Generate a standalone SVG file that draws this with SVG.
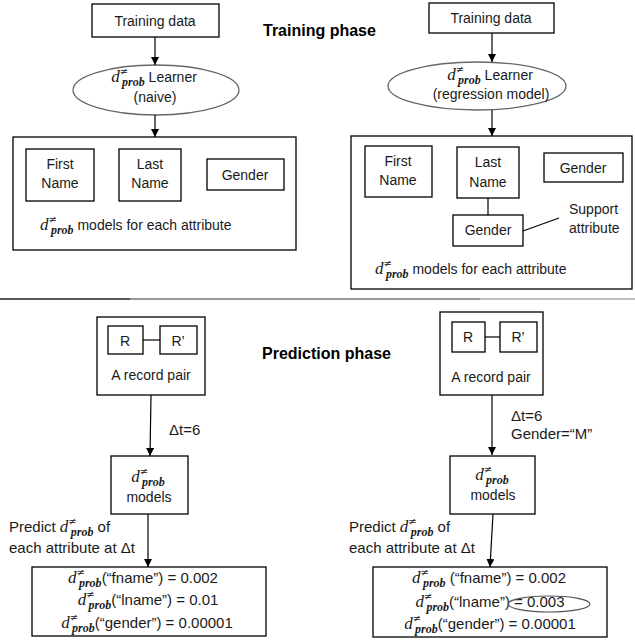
<svg xmlns="http://www.w3.org/2000/svg" width="635" height="640" viewBox="0 0 635 640">
<defs>
<marker id="ah" viewBox="0 0 10 10" refX="10" refY="5" markerWidth="8" markerHeight="8" markerUnits="userSpaceOnUse" orient="auto">
<path d="M0,0 L10,5 L0,10 z" fill="#000"/>
</marker>
</defs>
<style>
text{font-family:"Liberation Sans",Arial,sans-serif;font-size:14px;fill:#1a1a1a}
.c{text-anchor:middle}
.t15{font-size:15px}
.b{font-weight:bold;font-size:16px;fill:#000}
.box{fill:#fff;stroke:#000;stroke-width:1.3}
.ell{fill:#fff;stroke:#666;stroke-width:1.3}
.ln{stroke:#000;stroke-width:1.2;fill:none}
.arr{stroke:#000;stroke-width:1.2;fill:none;marker-end:url(#ah)}
.d{font-family:"Liberation Serif","Times New Roman",serif;font-style:italic;font-size:17px}
.sp{font-family:"DejaVu Sans",sans-serif;font-size:10px}
.sb{font-family:"Liberation Serif","Times New Roman",serif;font-style:italic;font-weight:bold;font-size:12px}
</style>
<rect width="635" height="640" fill="#fff"/>

<text class="b" x="263" y="36">Training phase</text>
<text class="b" x="262" y="359">Prediction phase</text>

<g id="divider">
<line x1="0" y1="299" x2="130" y2="299" stroke="#222" stroke-width="1.5"/>
<line x1="130" y1="299" x2="480" y2="299" stroke="#777" stroke-width="1.5"/>
<line x1="480" y1="299" x2="635" y2="299" stroke="#aaa" stroke-width="1.5"/>
</g>

<!-- Training left -->
<g id="train-data-left">
<rect class="box" x="92" y="4" width="127" height="33"/>
<text class="c" x="155" y="26">Training data</text>
</g>
<g id="learner-left">
<ellipse class="ell" cx="156" cy="90" rx="83" ry="25"/>
<text class="c" x="154" y="82"><tspan class="d">d</tspan><tspan class="sp" dy="-7">≠</tspan><tspan class="sb" dx="-6" dy="11">prob</tspan><tspan dy="-4"> Learner</tspan></text>
<text class="c" x="155" y="102">(naive)</text>
</g>
<g id="models-left">
<rect class="box" x="13" y="137" width="283" height="113"/>
<text x="40" y="230"><tspan class="d">d</tspan><tspan class="sp" dy="-7">≠</tspan><tspan class="sb" dx="-6" dy="11">prob</tspan><tspan dy="-4"> models for each attribute</tspan></text>
</g>
<g id="fname-left">
<rect class="box" x="26" y="149" width="68" height="52"/>
<text class="c" x="60" y="169">First</text>
<text class="c" x="60" y="188">Name</text>
</g>
<g id="lname-left">
<rect class="box" x="119" y="149" width="62" height="52"/>
<text class="c" x="150" y="169">Last</text>
<text class="c" x="150" y="188">Name</text>
</g>
<g id="gender-left">
<rect class="box" x="207" y="159" width="77" height="31"/>
<text class="c" x="245" y="180">Gender</text>
</g>

<!-- Training right -->
<g id="train-data-right">
<rect class="box" x="429" y="3" width="125" height="30"/>
<text class="c" x="491" y="23">Training data</text>
</g>
<g id="learner-right">
<ellipse class="ell" cx="477" cy="86" rx="89" ry="24"/>
<text class="c" x="490" y="80"><tspan class="d">d</tspan><tspan class="sp" dy="-7">≠</tspan><tspan class="sb" dx="-6" dy="11">prob</tspan><tspan dy="-4"> Learner</tspan></text>
<text class="c" x="491" y="99">(regression model)</text>
</g>
<g id="models-right">
<rect class="box" x="351" y="136" width="281" height="153"/>
<text x="375" y="274"><tspan class="d">d</tspan><tspan class="sp" dy="-7">≠</tspan><tspan class="sb" dx="-6" dy="11">prob</tspan><tspan dy="-4"> models for each attribute</tspan></text>
</g>
<g id="fname-right">
<rect class="box" x="365" y="146" width="67" height="51"/>
<text class="c" x="398" y="166">First</text>
<text class="c" x="398" y="185">Name</text>
</g>
<g id="lname-right">
<rect class="box" x="457" y="147" width="62" height="51"/>
<text class="c" x="488" y="167">Last</text>
<text class="c" x="488" y="187">Name</text>
</g>
<g id="gender-right">
<rect class="box" x="544" y="153" width="79" height="29"/>
<text class="c" x="583" y="173">Gender</text>
</g>
<g id="gender-support">
<rect class="box" x="453" y="215" width="70" height="31"/>
<text class="c" x="488" y="235">Gender</text>
</g>
<g id="support-label">
<text x="569" y="214">Support</text>
<text x="569" y="233">attribute</text>
</g>

<!-- Prediction left -->
<g id="pair-left">
<rect class="box" x="97" y="317" width="108" height="78"/>
<rect class="box" x="108" y="326" width="35" height="28"/>
<text class="c" x="125" y="346">R</text>
<rect class="box" x="160" y="326" width="37" height="28"/>
<text class="c" x="178" y="346">R’</text>
<text class="c" x="151" y="380">A record pair</text>
</g>
<text class="t15" x="169" y="435">Δt=6</text>
<g id="models-pred-left">
<rect class="box" x="111" y="456" width="77" height="58"/>
<text class="c" x="148" y="482"><tspan class="d">d</tspan><tspan class="sp" dy="-7">≠</tspan><tspan class="sb" dx="-6" dy="11">prob</tspan></text>
<text class="c" x="149" y="502">models</text>
</g>
<text class="t15" x="9" y="532">Predict <tspan class="d">d</tspan><tspan class="sp" dy="-7">≠</tspan><tspan class="sb" dx="-6" dy="11">prob</tspan><tspan dy="-4"> of</tspan></text>
<text class="t15" x="9" y="553">each attribute at Δt</text>
<g id="result-left">
<rect class="box" x="32" y="567" width="234" height="69"/>
<text class="c t15" x="143" y="583"><tspan class="d">d</tspan><tspan class="sp" dy="-7">≠</tspan><tspan class="sb" dx="-6" dy="11">prob</tspan><tspan dy="-4">(“fname”) = 0.002</tspan></text>
<text class="c t15" x="148" y="605"><tspan class="d">d</tspan><tspan class="sp" dy="-7">≠</tspan><tspan class="sb" dx="-6" dy="11">prob</tspan><tspan dy="-4">(“lname”) = 0.01</tspan></text>
<text class="c t15" x="147" y="628"><tspan class="d">d</tspan><tspan class="sp" dy="-7">≠</tspan><tspan class="sb" dx="-6" dy="11">prob</tspan><tspan dy="-4">(“gender”) = 0.00001</tspan></text>
</g>

<!-- Prediction right -->
<g id="pair-right">
<rect class="box" x="440" y="312" width="103" height="83"/>
<rect class="box" x="452" y="322" width="33" height="30"/>
<text class="c" x="468" y="342">R</text>
<rect class="box" x="500" y="322" width="37" height="30"/>
<text class="c" x="518" y="342">R’</text>
<text class="c" x="491" y="382">A record pair</text>
</g>
<text class="t15" x="511" y="421">Δt=6</text>
<text class="t15" x="511" y="439">Gender=“M”</text>
<g id="models-pred-right">
<rect class="box" x="450" y="456" width="85" height="58"/>
<text class="c" x="492" y="480"><tspan class="d">d</tspan><tspan class="sp" dy="-7">≠</tspan><tspan class="sb" dx="-6" dy="11">prob</tspan></text>
<text class="c" x="493" y="500">models</text>
</g>
<text class="t15" x="349" y="532">Predict <tspan class="d">d</tspan><tspan class="sp" dy="-7">≠</tspan><tspan class="sb" dx="-6" dy="11">prob</tspan><tspan dy="-4"> of</tspan></text>
<text class="t15" x="349" y="553">each attribute at Δt</text>
<g id="result-right">
<rect class="box" x="373" y="567" width="234" height="70"/>
<text class="c t15" x="489" y="583"><tspan class="d">d</tspan><tspan class="sp" dy="-7">≠</tspan><tspan class="sb" dx="-6" dy="11">prob</tspan><tspan dy="-4"> (“fname”) = 0.002</tspan></text>
<text class="c t15" x="490" y="607"><tspan class="d">d</tspan><tspan class="sp" dy="-7">≠</tspan><tspan class="sb" dx="-6" dy="11">prob</tspan><tspan dy="-4">(“lname”) = 0.003</tspan></text>
<text class="c t15" x="490" y="629"><tspan class="d">d</tspan><tspan class="sp" dy="-7">≠</tspan><tspan class="sb" dx="-6" dy="11">prob</tspan><tspan dy="-4">(“gender”) = 0.00001</tspan></text>
<ellipse cx="549" cy="604" rx="41" ry="8" fill="none" stroke="#555" stroke-width="1.2"/>
</g>

<g id="connectors">
<line class="arr" x1="155" y1="37" x2="155" y2="65"/>
<line class="arr" x1="155" y1="115" x2="155" y2="137"/>
<line class="arr" x1="492" y1="33" x2="492" y2="62"/>
<line class="arr" x1="492" y1="110" x2="492" y2="136"/>
<line class="ln" x1="488" y1="198" x2="488" y2="215"/>
<line class="ln" x1="523" y1="231" x2="559" y2="218"/>
<line class="ln" x1="143" y1="340" x2="160" y2="340"/>
<line class="ln" x1="485" y1="337" x2="500" y2="337"/>
<line class="arr" x1="151" y1="395" x2="150" y2="456"/>
<line class="arr" x1="492" y1="395" x2="492" y2="455"/>
<line class="arr" x1="148" y1="514" x2="148" y2="567"/>
<line class="arr" x1="493" y1="514" x2="490" y2="567"/>
</g>
</svg>
